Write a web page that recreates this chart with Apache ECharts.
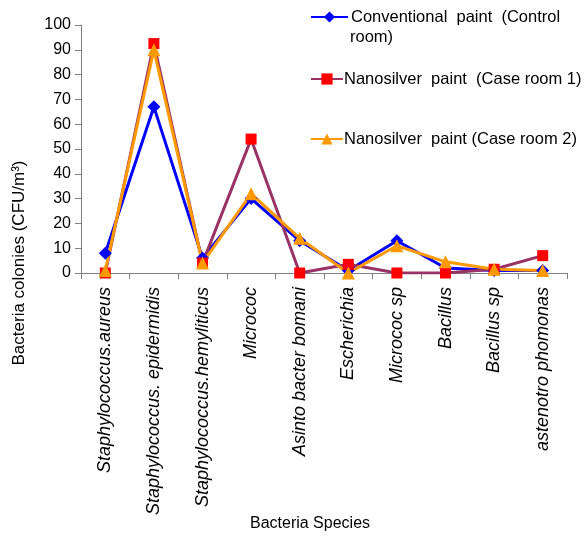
<!DOCTYPE html>
<html>
<head>
<meta charset="utf-8">
<script src="https://cdn.jsdelivr.net/npm/echarts@6/dist/echarts.min.js"></script>
<style>
  html, body { margin: 0; padding: 0; background: #fff; }
  #chart { width: 587px; height: 536px; }
</style>
</head>
<body>
<div id="chart"></div>
<script>
// Bacteria species sampled in each room
const species = [
  'Staphylococcus.aureus',
  'Staphylococcus. epidermidis',
  'Staphylococcus.hemyliticus',
  'Micrococ',
  'Asinto bacter bomani',
  'Escherichia',
  'Micrococ sp',
  'Bacillus',
  'Bacillus sp',
  'astenotro phomonas'
];

// Colony counts (CFU/m³)
const controlRoom = [8, 67, 6, 30, 13, 1, 13, 2, 1, 1];
const caseRoom1   = [0, 92.5, 4, 54, 0, 3.5, 0, 0, 1.5, 7];
const caseRoom2   = [1, 90, 4, 32, 14, 0, 11, 4.5, 1.5, 1];

const seriesNames = [
  'Conventional  paint  (Control',
  'Nanosilver  paint  (Case room 1)',
  'Nanosilver  paint (Case room 2)'
];

const yTicks = { min: 0, max: 100, interval: 10 };

const FONT = '"Liberation Sans", Arial, sans-serif';
const chart = echarts.init(document.getElementById('chart'));

// one legend box per series so each entry can sit at its own height
function legendAt(name, top, iconWidth, textShift) {
  return {
    data: [name],
    left: 310,
    top: top,
    orient: 'vertical',
    padding: 0,
    itemWidth: iconWidth,
    itemHeight: 14,
    itemGap: 0,
    selectedMode: false,
    textStyle: { fontFamily: FONT, fontSize: 16.5, color: '#000', lineHeight: 20, padding: [0, 0, 0, textShift] }
  };
}

chart.setOption({
  backgroundColor: '#fff',
  animation: false,
  grid: { left: 81, right: 20, top: 25, bottom: 263, containLabel: false },
  legend: [
    legendAt(seriesNames[0], 7, 37, -2),
    legendAt(seriesNames[1], 69, 32, -4),
    legendAt(seriesNames[2], 129, 32, -4)
  ],
  graphic: [
    {
      type: 'text', left: 350, top: 29,
      style: { text: 'room)', font: '16.5px ' + FONT, fill: '#000' }
    },
    {
      type: 'text', x: 19, y: 263, rotation: Math.PI / 2,
      style: {
        text: 'Bacteria colonies (CFU/m³)', font: '17px ' + FONT, fill: '#000',
        align: 'center', verticalAlign: 'middle'
      }
    },
    {
      type: 'text', x: 310, y: 524,
      style: {
        text: 'Bacteria Species', font: '16px ' + FONT, fill: '#000',
        align: 'center', verticalAlign: 'middle'
      }
    }
  ],
  xAxis: {
    type: 'category',
    data: species,
    boundaryGap: true,
    axisLine: { lineStyle: { color: '#808080', width: 1 } },
    axisTick: { show: true, alignWithLabel: false, length: 6, lineStyle: { color: '#808080' } },
    axisLabel: {
      rotate: 90, margin: 14, interval: 0,
      fontFamily: FONT, fontSize: 18, fontStyle: 'italic', color: '#000'
    },
    splitLine: { show: false }
  },
  yAxis: {
    type: 'value',
    min: yTicks.min, max: yTicks.max, interval: yTicks.interval,
    axisLine: { show: true, lineStyle: { color: '#808080', width: 1 } },
    axisTick: { show: true, length: 6, lineStyle: { color: '#808080' } },
    axisLabel: { fontFamily: FONT, fontSize: 16, color: '#000', margin: 10 },
    splitLine: { show: false }
  },
  series: [
    {
      name: seriesNames[0], type: 'line', data: controlRoom,
      symbol: 'diamond', symbolSize: 13,
      lineStyle: { color: '#0000FF', width: 3 },
      itemStyle: { color: '#0000FF' }
    },
    {
      name: seriesNames[1], type: 'line', data: caseRoom1,
      symbol: 'rect', symbolSize: 11,
      lineStyle: { color: '#993366', width: 3 },
      itemStyle: { color: '#FF0000' }
    },
    {
      name: seriesNames[2], type: 'line', data: caseRoom2,
      symbol: 'triangle', symbolSize: 13,
      lineStyle: { color: '#FF9900', width: 3 },
      itemStyle: { color: '#FF9900' }
    }
  ]
});
</script>
</body>
</html>
